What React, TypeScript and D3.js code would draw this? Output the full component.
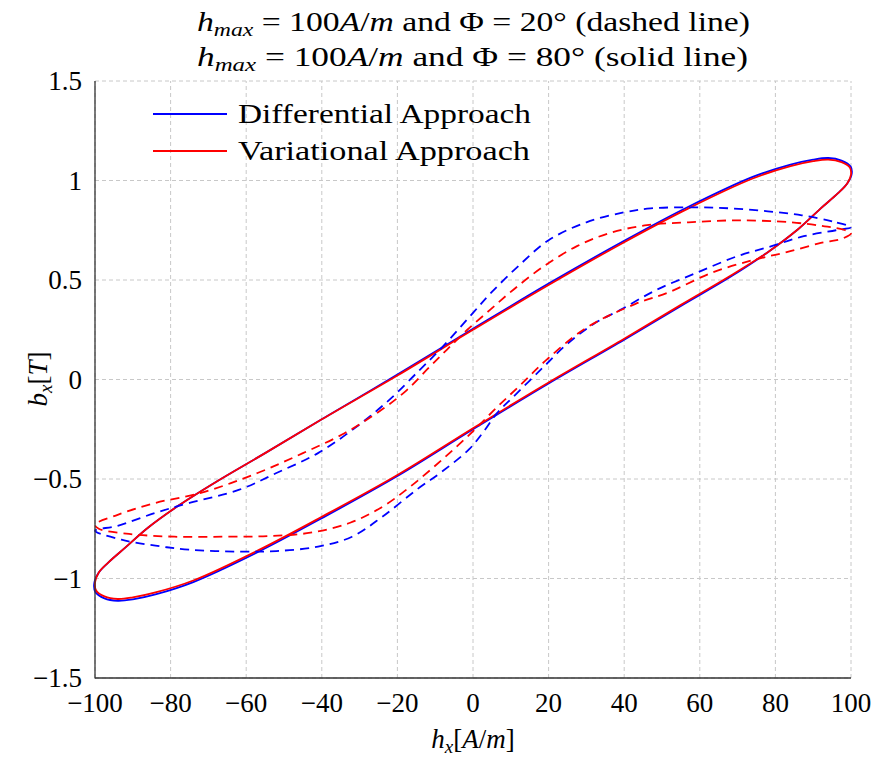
import React from "react";
import * as d3 from "d3";

// tick values
const xTicks = [-100, -80, -60, -40, -20, 0, 20, 40, 60, 80, 100];
const yTicks = [-1.5, -1, -0.5, 0, 0.5, 1, 1.5];
const yTickLabels = ["\u22121.5", "\u22121", "\u22120.5", "0", "0.5", "1", "1.5"];

const legendLabels = ["Differential Approach", "Variational Approach"];
const legendColors = ["#0000ff", "#ff0000"];

// phi = 80 deg, solid loops [h, b]
const solidVar: [number, number][] = [
  [100, 1.03], [99, 0.985], [96.5, 0.935], [92, 0.86], [86, 0.755], [78, 0.64], [68, 0.52],
  [55, 0.375], [40, 0.205], [20, -0.015], [0, -0.245], [-20, -0.48], [-40, -0.69],
  [-57, -0.86], [-74, -1.01], [-84, -1.07], [-90, -1.095], [-94, -1.103], [-97.5, -1.09],
  [-99.7, -1.06], [-100, -1.02], [-99, -0.97], [-96.5, -0.92], [-92, -0.845], [-86, -0.745],
  [-78, -0.635], [-68, -0.515], [-55, -0.37], [-40, -0.2], [-20, 0.02], [0, 0.25],
  [20, 0.475], [40, 0.69], [57, 0.86], [74, 1.01], [84, 1.072], [90, 1.097], [94, 1.105],
  [97.5, 1.092], [99.7, 1.065],
];
const solidDiff: [number, number][] = [
  [100.2, 1.035], [99, 0.985], [96.5, 0.935], [92, 0.86], [86, 0.755], [78, 0.64], [68, 0.515],
  [55, 0.37], [40, 0.2], [20, -0.02], [0, -0.25], [-20, -0.485], [-40, -0.697],
  [-57, -0.868], [-74, -1.018], [-84, -1.08], [-90, -1.105], [-94, -1.112], [-97.5, -1.1],
  [-99.9, -1.068], [-100.2, -1.025], [-99, -0.97], [-96.5, -0.92], [-92, -0.845], [-86, -0.745],
  [-78, -0.635], [-68, -0.515], [-55, -0.37], [-40, -0.2], [-20, 0.025], [0, 0.255],
  [20, 0.482], [40, 0.697], [57, 0.868], [74, 1.018], [84, 1.08], [90, 1.105], [94, 1.113],
  [97.5, 1.1], [99.9, 1.07],
];

// phi = 20 deg, dashed loops [h, b]
const dashedDiff: [number, number][] = [
  [100, 0.765], [95, 0.795], [87, 0.825], [78, 0.845], [68, 0.86], [58, 0.865], [47, 0.86],
  [40, 0.84], [30, 0.79], [20, 0.7], [12, 0.57], [5, 0.44], [0, 0.335], [-8, 0.165],
  [-14, 0.05], [-22, -0.1], [-31, -0.24], [-41, -0.37], [-52, -0.47], [-62, -0.555],
  [-75, -0.62], [-84, -0.67], [-94, -0.735], [-100, -0.76],
  [-93, -0.805], [-84, -0.835], [-75, -0.855], [-62, -0.865], [-52, -0.862], [-41, -0.84],
  [-32, -0.79], [-24, -0.69], [-15, -0.555], [-8, -0.46], [-1, -0.35], [2.5, -0.27],
  [6.3, -0.17], [10.5, -0.09], [18.5, 0.06], [25, 0.18], [32, 0.28], [39, 0.35],
  [48.5, 0.45], [59, 0.535], [70, 0.62], [79, 0.67], [87.5, 0.72], [96, 0.75],
];
const dashedVar: [number, number][] = [
  [100, 0.735], [98.5, 0.75], [93, 0.77], [84, 0.79], [70, 0.8], [57, 0.79], [46, 0.776],
  [36, 0.735], [27.5, 0.67], [18.5, 0.566], [10.6, 0.45], [4.5, 0.35], [-1.5, 0.25],
  [-7, 0.148], [-11.5, 0.063], [-17.5, -0.053], [-24, -0.15], [-34, -0.27], [-45, -0.37],
  [-57, -0.47], [-72, -0.57], [-84, -0.62], [-94, -0.68], [-100, -0.73],
  [-99, -0.75], [-91, -0.776], [-79, -0.79], [-66, -0.79], [-54, -0.787], [-43, -0.77],
  [-32.5, -0.72], [-24, -0.64], [-16.7, -0.54], [-8, -0.4], [0, -0.26], [6.3, -0.14],
  [12.4, -0.03], [19.5, 0.1], [30, 0.26], [43, 0.38], [52, 0.44], [63, 0.535],
  [74, 0.6], [83, 0.64], [92, 0.686], [98, 0.71],
];

const W = 888;
const H = 758;
const margin = { left: 95, right: 37, top: 81, bottom: 80 };
const font = "Liberation Serif";
const fs = 27;

export default function App() {
  const x = d3.scaleLinear().domain([-100, 100]).range([margin.left, W - margin.right]);
  const y = d3.scaleLinear().domain([-1.5, 1.5]).range([H - margin.bottom, margin.top]);
  const line = d3
    .line<[number, number]>()
    .x((d) => x(d[0]))
    .y((d) => y(d[1]))
    .curve(d3.curveCatmullRomClosed.alpha(0.5));

  const [x0, x1] = x.range();
  const [y0, y1] = y.range();

  const curves = [
    { data: solidDiff, color: legendColors[0], dash: "none" },
    { data: solidVar, color: legendColors[1], dash: "none" },
    { data: dashedDiff, color: legendColors[0], dash: "9,6" },
    { data: dashedVar, color: legendColors[1], dash: "9,6" },
  ];

  return (
    <svg width={W} height={H} style={{ position: "absolute", left: 0, top: 0, background: "#fff" }}
      fontFamily={font} fontSize={fs}>
      {/* grid */}
      <g stroke="#c8c8c8" strokeWidth={1} strokeDasharray="4,3">
        {xTicks.map((t) => (
          <line key={"gx" + t} x1={x(t)} x2={x(t)} y1={y0} y2={y1} />
        ))}
        {yTicks.map((t) => (
          <line key={"gy" + t} x1={x0} x2={x1} y1={y(t)} y2={y(t)} />
        ))}
      </g>

      {/* curves */}
      {curves.map((c, i) => (
        <path key={i} d={line(c.data) || ""} fill="none" stroke={c.color} strokeWidth={1.8}
          strokeDasharray={c.dash} strokeLinejoin="round" />
      ))}

      {/* axes */}
      <g stroke="#333" strokeWidth={1.3}>
        <line x1={x0} x2={x0} y1={y1} y2={y0 + 0.6} />
        <line x1={x0} x2={x1} y1={y0} y2={y0} />
      </g>

      {/* tick labels */}
      {xTicks.map((t) => (
        <text key={"tx" + t} x={x(t)} y={y0 + 34} textAnchor="middle">
          {t < 0 ? "\u2212" + Math.abs(t) : String(t)}
        </text>
      ))}
      {yTicks.map((t, i) => (
        <text key={"ty" + t} x={82} y={y(t) + 9} textAnchor="end">
          {yTickLabels[i]}
        </text>
      ))}

      {/* axis labels */}
      <text x={473} y={748} textAnchor="middle">
        <tspan fontStyle="italic">h</tspan>
        <tspan fontStyle="italic" fontSize={19} dy={5}>x</tspan>
        <tspan dy={-5}>[</tspan>
        <tspan fontStyle="italic">A</tspan>
        <tspan>/</tspan>
        <tspan fontStyle="italic">m</tspan>
        <tspan>]</tspan>
      </text>
      <text transform="translate(47,379) rotate(-90)" textAnchor="middle">
        <tspan fontStyle="italic">b</tspan>
        <tspan fontStyle="italic" fontSize={19} dy={5}>x</tspan>
        <tspan dy={-5}>[</tspan>
        <tspan fontStyle="italic">T</tspan>
        <tspan>]</tspan>
      </text>

      {/* title */}
      {["20", "80"].map((ang, i) => (
        <text key={"title" + i} x={197} y={31 + i * 35} textLength={553 - i * 2}
          lengthAdjust="spacingAndGlyphs">
          <tspan fontStyle="italic">h</tspan>
          <tspan fontStyle="italic" fontSize={19} dy={5}>max</tspan>
          <tspan dy={-5}> = 100</tspan>
          <tspan fontStyle="italic">A</tspan>
          <tspan>/</tspan>
          <tspan fontStyle="italic">m</tspan>
          <tspan>{` and \u03A6 = ${ang}\u00B0 (${i === 0 ? "dashed" : "solid"} line)`}</tspan>
        </text>
      ))}

      {/* legend */}
      {legendLabels.map((lab, i) => (
        <g key={lab}>
          <line x1={153} x2={227} y1={114 + i * 37} y2={114 + i * 37} stroke={legendColors[i]}
            strokeWidth={1.8} />
          <text x={238} y={123 + i * 37} textLength={i === 0 ? 293 : 292}
            lengthAdjust="spacingAndGlyphs">{lab}</text>
        </g>
      ))}
    </svg>
  );
}
